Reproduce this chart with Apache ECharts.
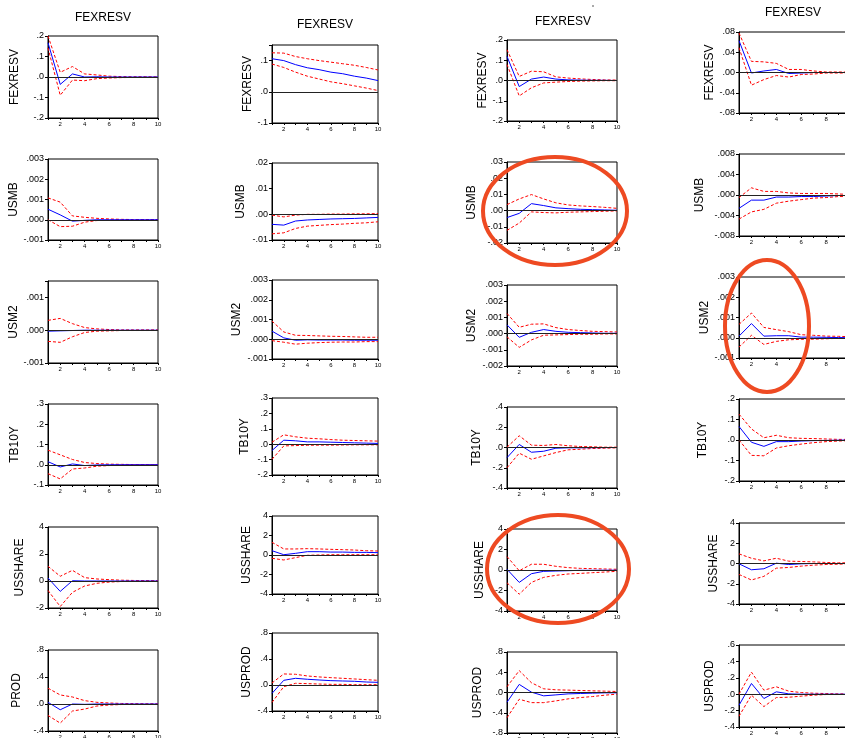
<!DOCTYPE html>
<html><head><meta charset="utf-8">
<script src="https://cdn.jsdelivr.net/npm/echarts@6/dist/echarts.min.js"></script>
<style>html,body{margin:0;padding:0;background:#fff}#c{width:845px;height:738px}</style>
</head><body><div id="c"></div>
<script>
const periods = [1,2,3,4,5,6,7,8,9,10];
const colTitles = ['FEXRESV','FEXRESV','FEXRESV','FEXRESV'];
const c1Names = ['FEXRESV','USMB','USM2','TB10Y','USSHARE','PROD'];
const c2Names = ['FEXRESV','USMB','USM2','TB10Y','USSHARE','USPROD'];
const c3Names = ['FEXRESV','USMB','USM2','TB10Y','USSHARE','USPROD'];
const c4Names = ['FEXRESV','USMB','USM2','TB10Y','USSHARE','USPROD'];

// y axis ticks: [min, max, interval, decimals]
const c1Axis = [[-0.2,0.2,0.1,1],[-0.001,0.003,0.001,3],[-0.001,0.0015,0.001,3],[-0.1,0.3,0.1,1],[-2,4,2,0],[-0.4,0.8,0.4,1]];
const c2Axis = [[-0.1,0.15,0.1,1],[-0.01,0.02,0.01,2],[-0.001,0.003,0.001,3],[-0.2,0.3,0.1,1],[-4,4,2,0],[-0.4,0.8,0.4,1]];
const c3Axis = [[-0.2,0.2,0.1,1],[-0.02,0.03,0.01,2],[-0.002,0.003,0.001,3],[-0.4,0.4,0.2,1],[-4,4,2,0],[-0.8,0.8,0.4,1]];
const c4Axis = [[-0.08,0.08,0.04,2],[-0.008,0.008,0.004,3],[-0.001,0.003,0.001,3],[-0.2,0.2,0.1,1],[-4,4,2,0],[-0.4,0.6,0.2,1]];

const c1Resp = [
 [0.167,-0.036,0.015,0.000,0.001,0,0,0,0,0],
 [0.00052,0.00024,-0.00007,-0.00003,0,0,0,0,0,0],
 [-0.00003,-0.00002,-0.00001,0,0,0,0,0,0,0],
 [0.015,-0.011,0.004,-0.004,-0.001,0,0,0,0,0],
 [0.22,-0.77,0.02,0,0,0,0,0,0,0],
 [0.025,-0.085,0,-0.005,0,0,0,0,0,0]];
const c1Up = [
 [0.2,0.023,0.051,0.015,0.01,0.004,0.002,0.001,0.001,0],
 [0.00108,0.00087,0.00019,0.00012,0.00007,0.00004,0.00002,0.00001,0.00001,0.00001],
 [0.0003,0.00036,0.0002,0.00008,0.00004,0.00002,0.00001,0.00001,0.00001,0.00001],
 [0.072,0.049,0.026,0.011,0.006,0.003,0.002,0.001,0.001,0],
 [1.09,0.35,0.79,0.25,0.15,0.1,0.06,0.04,0.03,0.02],
 [0.234,0.134,0.104,0.05,0.025,0.015,0.008,0.005,0.003,0.002]];
const c1Lo = [
 [0.142,-0.089,-0.015,-0.018,-0.008,-0.005,-0.003,-0.002,-0.001,-0.001],
 [0,-0.00034,-0.00032,-0.00012,-0.00004,-0.00002,-0.00001,-0.00001,0,0],
 [-0.00034,-0.00037,-0.0002,-0.00007,-0.00003,-0.00002,-0.00001,-0.00001,-0.00001,-0.00001],
 [-0.044,-0.07,-0.021,-0.016,-0.007,-0.004,-0.002,-0.001,-0.001,0],
 [-0.7,-1.89,-0.84,-0.37,-0.17,-0.08,-0.04,-0.02,-0.01,-0.01],
 [-0.17,-0.283,-0.104,-0.075,-0.03,-0.015,-0.008,-0.005,-0.003,-0.002]];

const c2Resp = [
 [0.106,0.1,0.087,0.077,0.071,0.063,0.058,0.05,0.044,0.036],
 [-0.0039,-0.0042,-0.0026,-0.0022,-0.002,-0.0018,-0.0017,-0.0016,-0.0014,-0.0012],
 [0.00041,0.00007,-0.00005,-0.00003,-0.00004,-0.00004,-0.00004,-0.00005,-0.00005,-0.00005],
 [-0.041,0.026,0.022,0.015,0.015,0.013,0.011,0.009,0.007,0.005],
 [0.44,0.03,0.17,0.34,0.34,0.3,0.3,0.27,0.27,0.24],
 [-0.129,0.072,0.103,0.088,0.077,0.067,0.062,0.057,0.046,0.041]];
const c2Up = [
 [0.125,0.124,0.113,0.106,0.1,0.095,0.09,0.085,0.078,0.07],
 [-0.0003,-0.001,-0.0003,0,0,0.0001,0.0001,0.0002,0.0002,0.0003],
 [0.00092,0.00037,0.0002,0.00019,0.00017,0.00015,0.00014,0.00012,0.0001,0.0001],
 [0.013,0.061,0.048,0.039,0.035,0.03,0.026,0.024,0.022,0.02],
 [1.3,0.62,0.62,0.65,0.62,0.58,0.55,0.51,0.44,0.41],
 [0.031,0.17,0.165,0.139,0.124,0.113,0.103,0.093,0.082,0.072]];
const c2Lo = [
 [0.089,0.078,0.063,0.05,0.041,0.032,0.026,0.019,0.012,0.004],
 [-0.0076,-0.0072,-0.0055,-0.0046,-0.0043,-0.004,-0.0038,-0.0035,-0.0033,-0.0029],
 [-0.00007,-0.00015,-0.00025,-0.0002,-0.00017,-0.00015,-0.00014,-0.00014,-0.00012,-0.00012],
 [-0.098,-0.011,-0.009,-0.007,-0.006,-0.006,-0.005,-0.004,-0.004,-0.004],
 [-0.34,-0.51,-0.27,-0.03,0,0.03,0.03,0.03,0.03,0.03],
 [-0.268,-0.026,0.026,0.021,0.015,0.01,0.01,0.005,0.005,0.005]];

const c3Resp = [
 [0.119,-0.03,0.007,0.017,0.007,0.003,0.002,0.001,0.001,0],
 [-0.0043,-0.0017,0.0043,0.0031,0.0017,0.0012,0.0008,0.0006,0.0004,0.0002],
 [0.00054,-0.00023,0.00008,0.00025,0.00014,0.00008,0.00006,0.00004,0.00002,0.00002],
 [-0.1,0.03,-0.047,-0.037,-0.007,-0.003,-0.003,-0.002,-0.001,0],
 [0.07,-1.21,-0.36,-0.13,-0.1,-0.07,-0.03,-0.03,-0.02,-0.02],
 [-0.193,0.16,0.007,-0.066,-0.047,-0.027,-0.02,-0.013,-0.007,-0.007]];
const c3Up = [
 [0.152,0.02,0.046,0.043,0.018,0.012,0.008,0.005,0.003,0.002],
 [0.0037,0.0072,0.0099,0.0072,0.0048,0.0035,0.0029,0.0025,0.002,0.0014],
 [0.00124,0.00039,0.00058,0.0006,0.00037,0.00025,0.00019,0.00014,0.00012,0.0001],
 [0.003,0.116,0.023,0.02,0.03,0.017,0.01,0.007,0.003,0.003],
 [1.31,-0.07,0.56,0.56,0.36,0.23,0.16,0.13,0.1,0.07],
 [0.113,0.432,0.193,0.073,0.053,0.047,0.04,0.033,0.027,0.02]];
const c3Lo = [
 [0.079,-0.076,-0.036,-0.012,-0.008,-0.005,-0.003,-0.002,-0.001,-0.001],
 [-0.0122,-0.0077,-0.0008,-0.0012,-0.0014,-0.001,-0.0008,-0.0006,-0.0004,-0.0002],
 [-0.0002,-0.00085,-0.00039,-0.0001,-0.00008,-0.00006,-0.00004,-0.00004,-0.00002,-0.00002],
 [-0.2,-0.056,-0.116,-0.083,-0.05,-0.023,-0.017,-0.01,-0.007,-0.003],
 [-1.25,-2.36,-1.21,-0.72,-0.52,-0.39,-0.33,-0.26,-0.2,-0.13],
 [-0.498,-0.133,-0.2,-0.2,-0.166,-0.126,-0.1,-0.08,-0.053,-0.033]];

const c4Resp = [
 [0.063,-0.001,0.003,0.006,-0.002,-0.001,0,0,0,0],
 [-0.0026,-0.001,-0.001,-0.0004,-0.0004,-0.0003,-0.0003,-0.0002,-0.0001,-0.0001],
 [0.00008,0.0007,0.00008,0.0001,0.0001,0.00003,0.00003,0.00002,0.00001,0],
 [0.066,-0.011,-0.031,-0.008,-0.008,-0.005,-0.003,-0.002,-0.001,0],
 [-0.03,-0.62,-0.52,0.03,-0.1,-0.03,0,0,0,0],
 [-0.135,0.131,-0.053,0.029,0.004,0,0,0,0,0]];
const c4Up = [
 [0.078,0.022,0.021,0.018,0.006,0.006,0.003,0.001,0.001,0.001],
 [-0.0005,0.0014,0.0007,0.0007,0.0004,0.0003,0.0003,0.0003,0.0002,0.0001],
 [0.00066,0.00122,0.00051,0.0004,0.0003,0.00015,0.00012,0.00008,0.00007,0.00005],
 [0.126,0.054,0.011,0.023,0.011,0.008,0.007,0.005,0.003,0.003],
 [0.95,0.52,0.26,0.52,0.23,0.2,0.16,0.1,0.07,0.07],
 [0,0.269,0.049,0.09,0.037,0.02,0.012,0.008,0.004,0.004]];
const c4Lo = [
 [0.049,-0.025,-0.014,-0.006,-0.009,-0.004,-0.003,-0.001,-0.001,-0.001],
 [-0.0047,-0.0033,-0.0028,-0.0016,-0.0012,-0.0009,-0.0006,-0.0005,-0.0003,-0.0003],
 [-0.00046,0.00012,-0.00033,-0.00018,-0.0001,-0.00008,-0.00007,-0.00005,-0.00003,-0.00003],
 [0,-0.075,-0.077,-0.039,-0.028,-0.02,-0.013,-0.008,-0.005,-0.003],
 [-1.08,-1.63,-1.27,-0.46,-0.39,-0.26,-0.16,-0.1,-0.07,-0.03],
 [-0.269,-0.012,-0.151,-0.041,-0.037,-0.024,-0.012,-0.004,-0.004,0]];

// ---- layout (positions only) ----
const colLeft = [48, 272, 507, 739];
const colWidth = [110, 106, 110, 112];
const colRows = [
 [[36,82],[159,81],[281,82],[404,81],[527,81],[650,81]],
 [[45,78],[163,77],[280,79],[398,77],[516,78],[633,78]],
 [[40,81],[162,81],[285,81],[407,81],[529,82],[652,81]],
 [[32,81],[154,82],[277,81],[399,82],[523,81],[645,82]]];
const nameGaps = [[27,28,27,27,22,25],[9,25,29,21,19,19],[18,29,29,24,21,23],[20,33,28,30,19,23]];
const titlePos = [[103,18],[325,25],[563,22],[793,13]];

const FONT = 'Liberation Sans, Arial, sans-serif';
const cols = [
 {names:c1Names, axis:c1Axis, resp:c1Resp, up:c1Up, lo:c1Lo},
 {names:c2Names, axis:c2Axis, resp:c2Resp, up:c2Up, lo:c2Lo},
 {names:c3Names, axis:c3Axis, resp:c3Resp, up:c3Up, lo:c3Lo},
 {names:c4Names, axis:c4Axis, resp:c4Resp, up:c4Up, lo:c4Lo}];

function fmt(v, mn, iv, d) {
  const k = (v - mn) / iv;
  if (Math.abs(k - Math.round(k)) > 1e-6) return '';
  if (Math.abs(v) < 1e-12) v = 0;
  let s = v.toFixed(d);
  if (d > 0) s = s.replace(/^(-?)0\./, '$1.');
  return s;
}

const grid = [], xAxis = [], yAxis = [], series = [];
cols.forEach((c, ci) => {
  for (let r = 0; r < 6; r++) {
    const g = ci * 6 + r;
    const [mn, mx, iv, d] = c.axis[r];
    grid.push({left: colLeft[ci], width: colWidth[ci], top: colRows[ci][r][0], height: colRows[ci][r][1],
      show: true, borderColor: '#000', borderWidth: 1, containLabel: false, outerBoundsMode: 'none'});
    xAxis.push({type: 'value', gridIndex: g, min: 1, max: 10, interval: 1,
      axisLine: {show: true, onZero: false, lineStyle: {color: '#000', width: 1}},
      axisTick: {show: true, length: 2, lineStyle: {color: '#000'}},
      splitLine: {show: false},
      axisLabel: {fontSize: 6, margin: 3, color: '#000', fontFamily: FONT,
        formatter: v => (v % 2 === 0 ? String(v) : '')}});
    yAxis.push({type: 'value', gridIndex: g, min: mn, max: mx, interval: iv,
      name: c.names[r], nameLocation: 'middle', nameRotate: 90, nameGap: nameGaps[ci][r],
      nameTextStyle: {fontSize: 12, color: '#000', fontFamily: FONT},
      axisLine: {show: true, lineStyle: {color: '#000', width: 1}},
      axisTick: {show: true, length: 3, lineStyle: {color: '#000'}},
      splitLine: {show: false},
      axisLabel: {fontSize: 9, margin: 4, color: '#000', fontFamily: FONT,
        formatter: v => fmt(v, mn, iv, d)}});
    const mk = (arr) => periods.map((p, i) => [p, arr[i]]);
    series.push({type: 'line', xAxisIndex: g, yAxisIndex: g, data: mk(c.resp[r]), showSymbol: false,
      lineStyle: {color: '#0000ff', width: 1}, z: 3,
      markLine: {silent: true, symbol: 'none', label: {show: false},
        lineStyle: {color: '#222', width: 1, type: 'solid'}, data: [{yAxis: 0}], animation: false}});
    series.push({type: 'line', xAxisIndex: g, yAxisIndex: g, data: mk(c.up[r]), showSymbol: false,
      lineStyle: {color: '#ff0000', width: 1, type: [3, 2]}, z: 2});
    series.push({type: 'line', xAxisIndex: g, yAxisIndex: g, data: mk(c.lo[r]), showSymbol: false,
      lineStyle: {color: '#ff0000', width: 1, type: [3, 2]}, z: 2});
  }
});

const graphic = [];
titlePos.forEach((p, i) => graphic.push({type: 'text', x: p[0], y: p[1],
  style: {text: colTitles[i], fill: '#000', font: '12px ' + FONT, align: 'center', verticalAlign: 'middle'}}));
const ellipses = [[555,211,72,54],[558,569,71,54],[767,326,42,66]];
ellipses.forEach(e => graphic.push({type: 'ellipse', z: 100,
  shape: {cx: e[0], cy: e[1], rx: e[2], ry: e[3]},
  style: {fill: 'none', stroke: '#ee4a22', lineWidth: 4}}));
graphic.push({type: 'line', z: 100, shape: {x1: 592, y1: 6, x2: 594, y2: 6}, style: {stroke: '#555', lineWidth: 1}});

const chart = echarts.init(document.getElementById('c'), null, {renderer: 'canvas'});
chart.setOption({animation: false, backgroundColor: '#fff', grid, xAxis, yAxis, series, graphic});
</script></body></html>
